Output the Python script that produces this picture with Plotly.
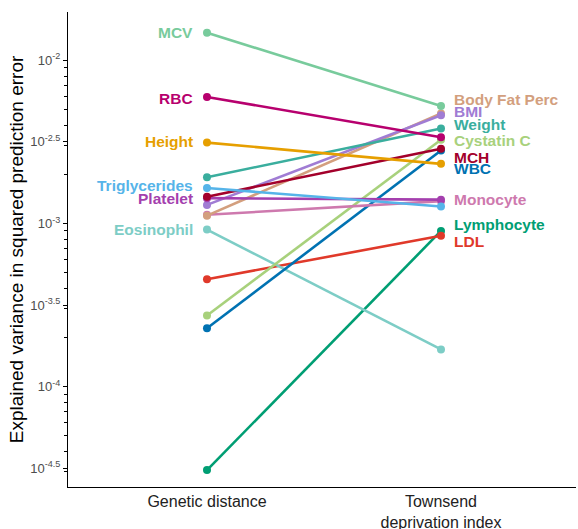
import math
import plotly.graph_objects as go

# ---- data ----
traits = ["Lymphocyte", "LDL", "Eosinophil", "WBC", "Cystatin C", "Monocyte",
          "Body Fat Perc", "BMI", "Platelet", "MCH", "Triglycerides", "Weight",
          "Height", "RBC", "MCV"]
genetic_distance = [3.08e-5, 4.55e-4, 9.18e-4, 2.28e-4, 2.73e-4, 1.13e-3,
                    1.117e-3, 1.30e-3, 1.43e-3, 1.46e-3, 1.65e-3, 1.92e-3,
                    3.13e-3, 5.96e-3, 1.476e-2]
townsend = [9.0e-4, 8.41e-4, 1.69e-4, 2.80e-3, 3.26e-3, 1.37e-3,
            4.72e-3, 4.60e-3, 1.40e-3, 2.87e-3, 1.27e-3, 3.82e-3,
            2.32e-3, 3.38e-3, 5.24e-3]
categories = ["Genetic distance", "Townsend<br>deprivation index"]
ytick_vals = [1e-2, 10**-2.5, 1e-3, 10**-3.5, 1e-4, 10**-4.5]
ytick_text = ["10<sup>-2</sup>", "10<sup>-2.5</sup>", "10<sup>-3</sup>",
              "10<sup>-3.5</sup>", "10<sup>-4</sup>", "10<sup>-4.5</sup>"]

# ---- styles ----
FONT = "Liberation Sans"
colors = {
    "Lymphocyte": "#009E73", "LDL": "#E0392A", "Eosinophil": "#7DCDC6",
    "WBC": "#0072B2", "Cystatin C": "#A8D17C", "Monocyte": "#CE79AE",
    "Body Fat Perc": "#D39F7E", "BMI": "#A07CD4", "Platelet": "#A43FAE",
    "MCH": "#A3002B", "Triglycerides": "#56B4E9", "Weight": "#3AAE9E",
    "Height": "#E69F00", "RBC": "#B7006E", "MCV": "#78CB9C",
}
label_side = {
    "MCV": 0, "RBC": 0, "Height": 0, "Triglycerides": 0, "Platelet": 0,
    "Eosinophil": 0, "Body Fat Perc": 1, "BMI": 1, "Weight": 1,
    "Cystatin C": 1, "MCH": 1, "WBC": 1, "Monocyte": 1, "Lymphocyte": 1,
    "LDL": 1,
}
label_shift = {
    "MCV": 0, "RBC": -2, "Height": 1, "Triglycerides": 2.5, "Platelet": 0,
    "Eosinophil": 0, "Body Fat Perc": 14, "BMI": 3.4, "Weight": 4,
    "Cystatin C": -1, "MCH": -8.3, "WBC": -18, "Monocyte": 1.5,
    "Lymphocyte": 6, "LDL": -6,
}

fig = go.Figure()
xpos = [0, 1]
for i, t in enumerate(traits):
    fig.add_trace(go.Scatter(
        x=xpos, y=[genetic_distance[i], townsend[i]],
        mode="lines+markers",
        line=dict(color=colors[t], width=2.6),
        marker=dict(color=colors[t], size=8),
        showlegend=False, hoverinfo="skip",
    ))

annotations = []
for i, t in enumerate(traits):
    side = label_side[t]
    val = genetic_distance[i] if side == 0 else townsend[i]
    annotations.append(dict(
        x=side, y=math.log10(val), xref="x", yref="y",
        text="<b>" + t + "</b>", showarrow=False,
        xanchor="right" if side == 0 else "left", yanchor="middle",
        xshift=-12 if side == 0 else 11, yshift=label_shift[t],
        font=dict(family=FONT, size=15.5, color=colors[t]),
    ))

fig.update_layout(
    width=578, height=529,
    margin=dict(l=68, r=2, t=12, b=42),
    paper_bgcolor="white", plot_bgcolor="white",
    font=dict(family=FONT),
    annotations=annotations,
    xaxis=dict(
        range=[-0.594, 1.577], tickmode="array", tickvals=xpos,
        ticktext=categories, showgrid=False, zeroline=False,
        showline=True, linecolor="black", linewidth=1.2,
        ticks="outside", ticklen=0, tickcolor="black",
        tickfont=dict(family=FONT, size=16, color="#222222"),
        automargin=False,
    ),
    yaxis=dict(
        type="log", range=[-4.615, -1.704],
        tickmode="array", tickvals=ytick_vals, ticktext=ytick_text,
        showgrid=False, zeroline=False,
        showline=True, linecolor="black", linewidth=1.2,
        ticks="outside", ticklen=4, tickcolor="black",
        tickfont=dict(family=FONT, size=13, color="#4D4D4D"),
        minor=dict(ticks="outside", ticklen=3, tickcolor="black",
                   dtick="D1", showgrid=False),
        title=dict(text="Explained variance in squared prediction error",
                   font=dict(family=FONT, size=19, color="black"), standoff=1),
        automargin=False,
    ),
)

fig.write_html(
    "out.html",
    config={"displayModeBar": False},
    post_script="document.body.style.margin='0';"
                "document.body.style.overflow='hidden';",
)
